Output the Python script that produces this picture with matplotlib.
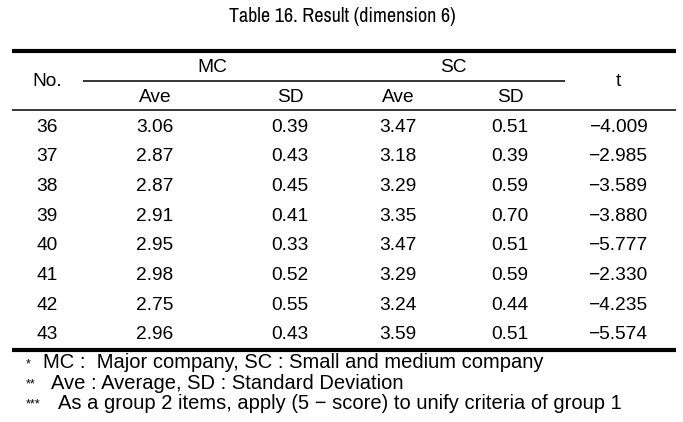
import matplotlib
matplotlib.use("Agg")
import matplotlib.pyplot as plt

title = "Table 16. Result (dimension 6)"
row_no = [36, 37, 38, 39, 40, 41, 42, 43]
mc_ave = [3.06, 2.87, 2.87, 2.91, 2.95, 2.98, 2.75, 2.96]
mc_sd = [0.39, 0.43, 0.45, 0.41, 0.33, 0.52, 0.55, 0.43]
sc_ave = [3.47, 3.18, 3.29, 3.35, 3.47, 3.29, 3.24, 3.59]
sc_sd = [0.51, 0.39, 0.59, 0.70, 0.51, 0.59, 0.44, 0.51]
t_val = [-4.009, -2.985, -3.589, -3.880, -5.777, -2.330, -4.235, -5.574]
notes = ["MC :  Major company, SC : Small and medium company",
         "Ave : Average, SD : Standard Deviation",
         "As a group 2 items, apply (5 \u2212 score) to unify criteria of group 1"]
stars = ["*", "**", "***"]

W, H = 683, 422
fig = plt.figure(figsize=(W / 100, H / 100), dpi=100)
ax = fig.add_axes([0, 0, 1, 1])
ax.set_xlim(0, W)
ax.set_ylim(H, 0)
ax.axis("off")

body = ["Liberation Sans", "DejaVu Sans"]
narrow = ["Archivo Narrow", "Liberation Sans", "DejaVu Sans"]
fs = 13.8

# column centres (pixels)
cx = [47, 155, 290, 398, 510, 618]

ax.text(342, 16, title, ha="center", va="center", fontsize=14.5, family=narrow)

# rules
ax.plot([12, 676], [51, 51], color="black", lw=3.0, solid_capstyle="butt")
ax.plot([83, 565], [80.5, 80.5], color="black", lw=1.1, solid_capstyle="butt")
ax.plot([12, 676], [110, 110], color="black", lw=1.1, solid_capstyle="butt")
ax.plot([12, 676], [349.5, 349.5], color="black", lw=3.0, solid_capstyle="butt")

# header
ax.text(cx[0], 81, "No.", ha="center", va="center", fontsize=fs, family=body)
ax.text(212, 67, "MC", ha="center", va="center", fontsize=fs, family=body)
ax.text(453, 67, "SC", ha="center", va="center", fontsize=fs, family=body)
ax.text(cx[5], 81, "t", ha="center", va="center", fontsize=fs, family=body)
for x, lab in zip(cx[1:5], ["Ave", "SD", "Ave", "SD"]):
    ax.text(x, 97, lab, ha="center", va="center", fontsize=fs, family=body)

# body rows
y0, dy = 127, 29.7
for i in range(len(row_no)):
    y = y0 + i * dy
    cells = [str(row_no[i]), f"{mc_ave[i]:.2f}", f"{mc_sd[i]:.2f}",
             f"{sc_ave[i]:.2f}", f"{sc_sd[i]:.2f}",
             f"{t_val[i]:.3f}".replace("-", "\u2212")]
    for x, s in zip(cx, cells):
        ax.text(x, y, s, ha="center", va="center", fontsize=fs, family=body)

# footnotes
for i, (st, note) in enumerate(zip(stars, notes)):
    y = 363 + i * 20.3
    ax.text(26, y + 1, st, ha="left", va="center", fontsize=9, family=body)
    ax.text(26 + 7.3 * len(st) + 10, y, note, ha="left", va="center",
            fontsize=14.5, family=body)

fig.savefig("out.png", dpi=100)
